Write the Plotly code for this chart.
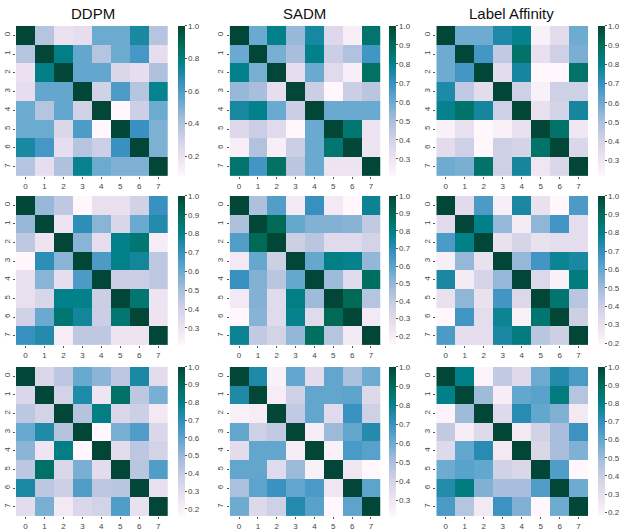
import plotly.graph_objects as go

labels = [0, 1, 2, 3, 4, 5, 6, 7]
col_titles = ["DDPM", "SADM", "Label Affinity"]

ddpm_1 = [
    [1.00, 0.38, 0.20, 0.22, 0.53, 0.53, 0.72, 0.38],
    [0.38, 1.00, 0.78, 0.55, 0.38, 0.53, 0.62, 0.22],
    [0.20, 0.78, 1.00, 0.55, 0.55, 0.27, 0.22, 0.40],
    [0.22, 0.55, 0.55, 1.00, 0.30, 0.60, 0.38, 0.76],
    [0.53, 0.38, 0.55, 0.30, 1.00, 0.08, 0.32, 0.53],
    [0.53, 0.53, 0.27, 0.60, 0.08, 1.00, 0.65, 0.50],
    [0.72, 0.62, 0.22, 0.38, 0.32, 0.65, 1.00, 0.50],
    [0.38, 0.22, 0.40, 0.76, 0.53, 0.50, 0.50, 1.00],
]
sadm_1 = [
    [1.00, 0.60, 0.80, 0.53, 0.76, 0.36, 0.25, 0.86],
    [0.60, 1.00, 0.58, 0.50, 0.80, 0.42, 0.48, 0.68],
    [0.80, 0.58, 1.00, 0.33, 0.60, 0.35, 0.25, 0.88],
    [0.53, 0.50, 0.33, 1.00, 0.42, 0.21, 0.42, 0.46],
    [0.76, 0.80, 0.60, 0.42, 1.00, 0.60, 0.60, 0.60],
    [0.36, 0.42, 0.35, 0.21, 0.60, 1.00, 0.85, 0.30],
    [0.25, 0.48, 0.25, 0.42, 0.60, 0.85, 1.00, 0.30],
    [0.86, 0.68, 0.88, 0.46, 0.60, 0.30, 0.30, 1.00],
]
label_1 = [
    [1.00, 0.60, 0.60, 0.75, 0.80, 0.25, 0.35, 0.60],
    [0.60, 1.00, 0.68, 0.45, 0.87, 0.33, 0.42, 0.58],
    [0.60, 0.68, 1.00, 0.35, 0.77, 0.22, 0.22, 0.87],
    [0.75, 0.45, 0.35, 1.00, 0.42, 0.25, 0.42, 0.42],
    [0.80, 0.87, 0.77, 0.42, 1.00, 0.33, 0.40, 0.77],
    [0.25, 0.33, 0.22, 0.25, 0.33, 1.00, 0.87, 0.30],
    [0.35, 0.42, 0.22, 0.42, 0.40, 0.87, 1.00, 0.38],
    [0.60, 0.58, 0.87, 0.42, 0.77, 0.30, 0.38, 1.00],
]
ddpm_2 = [
    [1.00, 0.53, 0.45, 0.21, 0.32, 0.32, 0.40, 0.70],
    [0.53, 1.00, 0.30, 0.72, 0.55, 0.38, 0.60, 0.74],
    [0.45, 0.30, 1.00, 0.55, 0.33, 0.80, 0.85, 0.26],
    [0.21, 0.72, 0.55, 1.00, 0.66, 0.80, 0.77, 0.45],
    [0.32, 0.55, 0.33, 0.66, 1.00, 0.42, 0.42, 0.45],
    [0.32, 0.38, 0.80, 0.80, 0.42, 1.00, 0.85, 0.30],
    [0.40, 0.60, 0.85, 0.77, 0.42, 0.85, 1.00, 0.30],
    [0.70, 0.74, 0.26, 0.45, 0.45, 0.30, 0.30, 1.00],
]
sadm_2 = [
    [1.00, 0.45, 0.62, 0.22, 0.68, 0.22, 0.15, 0.77],
    [0.45, 1.00, 0.90, 0.58, 0.53, 0.53, 0.52, 0.40],
    [0.62, 0.90, 1.00, 0.37, 0.42, 0.30, 0.30, 0.35],
    [0.22, 0.58, 0.37, 1.00, 0.58, 0.80, 0.78, 0.50],
    [0.68, 0.53, 0.42, 0.58, 1.00, 0.48, 0.30, 0.88],
    [0.22, 0.53, 0.30, 0.80, 0.48, 1.00, 0.90, 0.43],
    [0.15, 0.52, 0.30, 0.78, 0.30, 0.90, 1.00, 0.22],
    [0.77, 0.40, 0.35, 0.50, 0.88, 0.43, 0.22, 1.00],
]
label_2 = [
    [1.00, 0.33, 0.65, 0.23, 0.75, 0.30, 0.19, 0.65],
    [0.33, 1.00, 0.80, 0.52, 0.25, 0.53, 0.67, 0.32],
    [0.65, 0.80, 1.00, 0.30, 0.37, 0.30, 0.32, 0.32],
    [0.23, 0.52, 0.30, 1.00, 0.52, 0.67, 0.78, 0.75],
    [0.75, 0.25, 0.37, 0.52, 1.00, 0.35, 0.22, 0.82],
    [0.30, 0.53, 0.30, 0.67, 0.35, 1.00, 0.85, 0.45],
    [0.19, 0.67, 0.32, 0.78, 0.22, 0.85, 1.00, 0.40],
    [0.65, 0.32, 0.32, 0.75, 0.82, 0.45, 0.40, 1.00],
]
ddpm_3 = [
    [1.00, 0.33, 0.42, 0.58, 0.52, 0.42, 0.74, 0.30],
    [0.33, 1.00, 0.36, 0.73, 0.25, 0.87, 0.42, 0.55],
    [0.42, 0.36, 1.00, 0.44, 0.80, 0.33, 0.38, 0.23],
    [0.58, 0.73, 0.44, 1.00, 0.16, 0.55, 0.63, 0.33],
    [0.52, 0.25, 0.80, 0.16, 1.00, 0.30, 0.42, 0.36],
    [0.42, 0.87, 0.33, 0.55, 0.30, 1.00, 0.43, 0.63],
    [0.74, 0.42, 0.38, 0.63, 0.42, 0.43, 1.00, 0.28],
    [0.30, 0.55, 0.23, 0.33, 0.36, 0.63, 0.28, 1.00],
]
sadm_3 = [
    [1.00, 0.75, 0.25, 0.62, 0.35, 0.62, 0.50, 0.60],
    [0.75, 1.00, 0.27, 0.42, 0.62, 0.62, 0.63, 0.37],
    [0.25, 0.27, 1.00, 0.45, 0.62, 0.36, 0.70, 0.42],
    [0.62, 0.42, 0.45, 1.00, 0.27, 0.53, 0.62, 0.74],
    [0.35, 0.62, 0.62, 0.27, 1.00, 0.25, 0.67, 0.64],
    [0.62, 0.62, 0.36, 0.53, 0.25, 1.00, 0.30, 0.22],
    [0.50, 0.63, 0.70, 0.62, 0.67, 0.30, 1.00, 0.63],
    [0.60, 0.37, 0.42, 0.74, 0.64, 0.22, 0.63, 1.00],
]
label_3 = [
    [1.00, 0.80, 0.20, 0.42, 0.33, 0.58, 0.73, 0.65],
    [0.80, 1.00, 0.50, 0.23, 0.60, 0.62, 0.82, 0.45],
    [0.20, 0.50, 1.00, 0.33, 0.72, 0.60, 0.55, 0.25],
    [0.42, 0.23, 0.33, 1.00, 0.25, 0.38, 0.48, 0.68],
    [0.33, 0.60, 0.72, 0.25, 1.00, 0.35, 0.48, 0.55],
    [0.58, 0.62, 0.60, 0.38, 0.35, 1.00, 0.64, 0.18],
    [0.73, 0.82, 0.55, 0.48, 0.48, 0.64, 1.00, 0.58],
    [0.65, 0.45, 0.25, 0.68, 0.55, 0.18, 0.58, 1.00],
]

grid = [
    [ddpm_1, sadm_1, label_1],
    [ddpm_2, sadm_2, label_2],
    [ddpm_3, sadm_3, label_3],
]
cbar_dticks = [
    [0.2, 0.1, 0.1],
    [0.1, 0.1, 0.1],
    [0.1, 0.1, 0.1],
]

W, H = 620, 531
col_px = [(16, 168), (230, 381), (437, 589)]
cbar_px = [178, 390, 599]
row_px = [(26, 177), (197, 347), (369, 519)]


def px_x(v):
    return v / W


def px_y(v):
    return 1 - v / H


fig = go.Figure()
layout = dict(
    width=W, height=H,
    margin=dict(l=0, r=0, t=0, b=0),
    paper_bgcolor="white", plot_bgcolor="white",
    font=dict(family="Liberation Sans, Arial, sans-serif", color="#333"),
    showlegend=False,
)

k = 0
for r in range(3):
    for c in range(3):
        k += 1
        z = grid[r][c]
        x0, x1 = col_px[c]
        y0, y1 = row_px[r]
        xa = "x" if k == 1 else f"x{k}"
        ya = "y" if k == 1 else f"y{k}"
        fig.add_trace(go.Heatmap(
            z=z, x=labels, y=labels,
            colorscale="PuBuGn",
            xaxis=xa, yaxis=ya,
            colorbar=dict(
                x=px_x(cbar_px[c]), xanchor="left",
                y=px_y(y0), yanchor="top",
                len=(y1 - y0) / H, lenmode="fraction",
                thickness=7, thicknessmode="pixels",
                outlinewidth=0,
                dtick=cbar_dticks[r][c], tick0=0, tickformat=".1f",
                ticks="outside", ticklen=2, tickcolor="#555",
                tickfont=dict(size=8, color="#444"),
                xpad=0, ypad=0,
            ),
            hoverinfo="skip",
        ))
        axkey = "xaxis" if k == 1 else f"xaxis{k}"
        aykey = "yaxis" if k == 1 else f"yaxis{k}"
        layout[axkey] = dict(
            domain=[px_x(x0), px_x(x1)], anchor=ya,
            range=[-0.5, 7.5], tickmode="array", tickvals=labels,
            ticktext=[str(v) for v in labels],
            ticks="outside", ticklen=2, tickcolor="#555",
            tickfont=dict(size=8, color="#444"),
            showgrid=False, zeroline=False, showline=False,
        )
        layout[aykey] = dict(
            domain=[px_y(y1), px_y(y0)], anchor=xa,
            range=[7.5, -0.5], tickmode="array", tickvals=labels,
            ticktext=[str(v) for v in labels], tickangle=-90,
            ticks="outside", ticklen=2, tickcolor="#555",
            tickfont=dict(size=8, color="#444"),
            showgrid=False, zeroline=False, showline=False,
        )

title_x = [93, 305, 512]
annotations = []
for c, t in enumerate(col_titles):
    annotations.append(dict(
        text=t, x=px_x(title_x[c]), y=px_y(14),
        xref="paper", yref="paper", xanchor="center", yanchor="middle",
        showarrow=False, font=dict(size=15, color="#111"),
    ))
layout["annotations"] = annotations

fig.update_layout(**layout)
fig.write_html(
    "out.html",
    config={"displayModeBar": False},
    post_script="document.body.style.margin='0';document.body.style.overflow='hidden';",
)
